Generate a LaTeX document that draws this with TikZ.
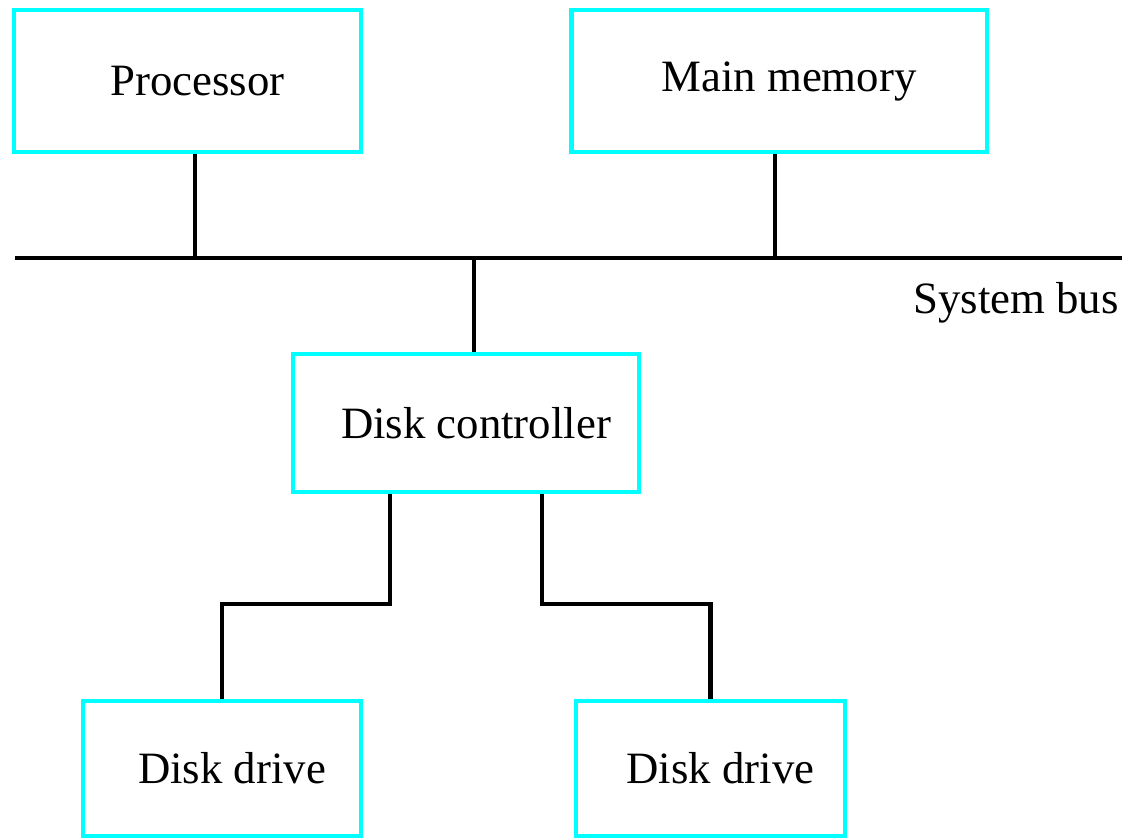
\documentclass[tikz,border=0pt]{standalone}
\usepackage{fontspec}
\setmainfont{Liberation Serif}
\definecolor{boxcyan}{RGB}{0,255,255}
\begin{document}
\begin{tikzpicture}[x=0.02cm, y=-0.02cm,
    every node/.style={font=\fontsize{25.5}{30}\selectfont},
    unit/.style={draw=boxcyan, line width=2.8pt, inner sep=0pt,
        execute at begin node=\hspace*{0.4cm}},
    wire/.style={line width=2.4pt, line join=miter}]
    \useasboundingbox (0,0) rectangle (1130,839);
    \node[unit, minimum width=6.94cm, minimum height=2.84cm] (proc) at (187.5,81) {Processor};
    \node[unit, minimum width=8.32cm, minimum height=2.84cm] (mem) at (779,81) {Main memory};
    \node[unit, minimum width=6.92cm, minimum height=2.76cm] (ctrl) at (466,423) {Disk controller};
    \node[unit, minimum width=5.56cm, minimum height=2.70cm] (drvL) at (222,768.5) {Disk drive};
    \node[unit, minimum width=5.38cm, minimum height=2.70cm] (drvR) at (710.5,768.5) {Disk drive};
    \coordinate (busL) at (15,258);
    \coordinate (busR) at (1122,258);
    \coordinate (tapP) at (195,258);
    \coordinate (tapM) at (775,258);
    \coordinate (tapC) at (474,258);
    \coordinate (kneeL) at (390,604);
    \coordinate (kneeR) at (542,604);
    \draw[wire] (busL) -- (busR);
    \node[anchor=east] (bus) at (1125,303) {System bus};
    \draw[wire] (proc.south -| tapP) -- (tapP);
    \draw[wire] (mem.south -| tapM) -- (tapM);
    \draw[wire] (tapC) -- (ctrl.north -| tapC);
    \draw[wire] (ctrl.south -| kneeL) -- (kneeL) -| (drvL.north);
    \draw[wire] (ctrl.south -| kneeR) -- (kneeR) -| (drvR.north);
\end{tikzpicture}
\end{document}
